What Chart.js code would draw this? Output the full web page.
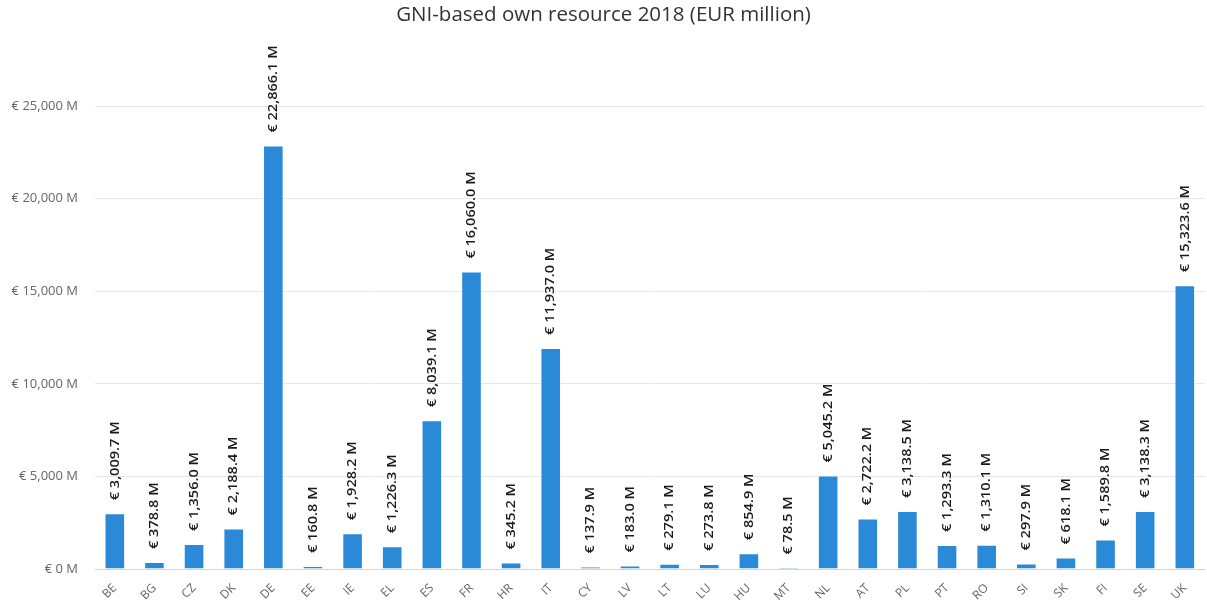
<!DOCTYPE html>
<html>
<head>
<meta charset="utf-8">
<script src="https://cdn.jsdelivr.net/npm/chart.js@4.4.0/dist/chart.umd.min.js"></script>
<style>
  html, body { margin: 0; padding: 0; background: #fff; }
  #wrap { width: 1207px; height: 610px; }
</style>
</head>
<body>
<div id="wrap"><canvas id="gniChart" width="1207" height="610"></canvas></div>
<script>
// countries (EU member state codes)
var countries = ['BE', 'BG', 'CZ', 'DK', 'DE', 'EE', 'IE', 'EL', 'ES', 'FR', 'HR', 'IT', 'CY', 'LV',
  'LT', 'LU', 'HU', 'MT', 'NL', 'AT', 'PL', 'PT', 'RO', 'SI', 'SK', 'FI', 'SE', 'UK'];

// GNI-based own resource 2018, EUR million
var gniValues = [3009.7, 378.8, 1356.0, 2188.4, 22866.1, 160.8, 1928.2, 1226.3, 8039.1, 16060.0, 345.2,
  11937.0, 137.9, 183.0, 279.1, 273.8, 854.9, 78.5, 5045.2, 2722.2, 3138.5, 1293.3, 1310.1, 297.9,
  618.1, 1589.8, 3138.3, 15323.6];

var yTicks = [0, 5000, 10000, 15000, 20000, 25000];

var FONT = '"Open Sans", sans-serif';

function euroFmt(v, dec) {
  return '€ ' + v.toLocaleString('en-US', { minimumFractionDigits: dec, maximumFractionDigits: dec }) + ' M';
}

// draws the rotated value labels above each bar
var barLabels = {
  id: 'barLabels',
  afterDatasetsDraw: function (chart) {
    var ctx = chart.ctx;
    var meta = chart.getDatasetMeta(0);
    ctx.save();
    ctx.font = '600 13px ' + FONT;
    ctx.fillStyle = '#1a1a1a';
    ctx.textAlign = 'left';
    ctx.textBaseline = 'middle';
    meta.data.forEach(function (bar, i) {
      ctx.save();
      ctx.translate(bar.x, bar.y - 13);
      ctx.rotate(-Math.PI / 2);
      ctx.scale(1.12, 1); // original labels use a wider face
      ctx.fillText(euroFmt(gniValues[i], 1), 0, 0);
      ctx.restore();
    });
    ctx.restore();
  }
};

var ctx = document.getElementById('gniChart').getContext('2d');
var gniChart = new Chart(ctx, {
  type: 'bar',
  data: {
    labels: countries,
    datasets: [{
      label: 'GNI-based own resource',
      data: gniValues,
      backgroundColor: '#2b8ad8',
      borderColor: '#ffffff',
      borderWidth: 1,
      barPercentage: 0.52,
      categoryPercentage: 1.0
    }]
  },
  options: {
    responsive: false,
    animation: false,
    layout: { padding: { left: 0, right: 0, top: 0, bottom: 0 } },
    plugins: {
      legend: { display: false },
      tooltip: { enabled: false },
      title: {
        display: true,
        text: 'GNI-based own resource 2018 (EUR million)',
        color: '#333333',
        font: { family: FONT, size: 20.5, weight: 'normal', lineHeight: 1.2 },
        padding: { top: 3, bottom: 4.4 }
      }
    },
    scales: {
      x: {
        afterFit: function (axis) { axis.height = 41; },
        grid: { display: false, drawTicks: false },
        border: { color: '#ccd6eb', width: 1 },
        ticks: {
          color: '#666666',
          font: { family: FONT, size: 12 },
          minRotation: 45,
          maxRotation: 45,
          padding: 12
        }
      },
      y: {
        min: 0,
        max: 29000,
        afterFit: function (axis) { axis.width = 95; },
        afterBuildTicks: function (axis) {
          axis.ticks = yTicks.map(function (v) { return { value: v }; });
        },
        grid: { color: '#e6e6e6', drawTicks: false },
        border: { display: false },
        ticks: {
          color: '#666666',
          font: { family: FONT, size: 13 },
          padding: 17,
          callback: function (v) { return euroFmt(v, 0); }
        }
      }
    }
  },
  plugins: [barLabels]
});
</script>
</body>
</html>
